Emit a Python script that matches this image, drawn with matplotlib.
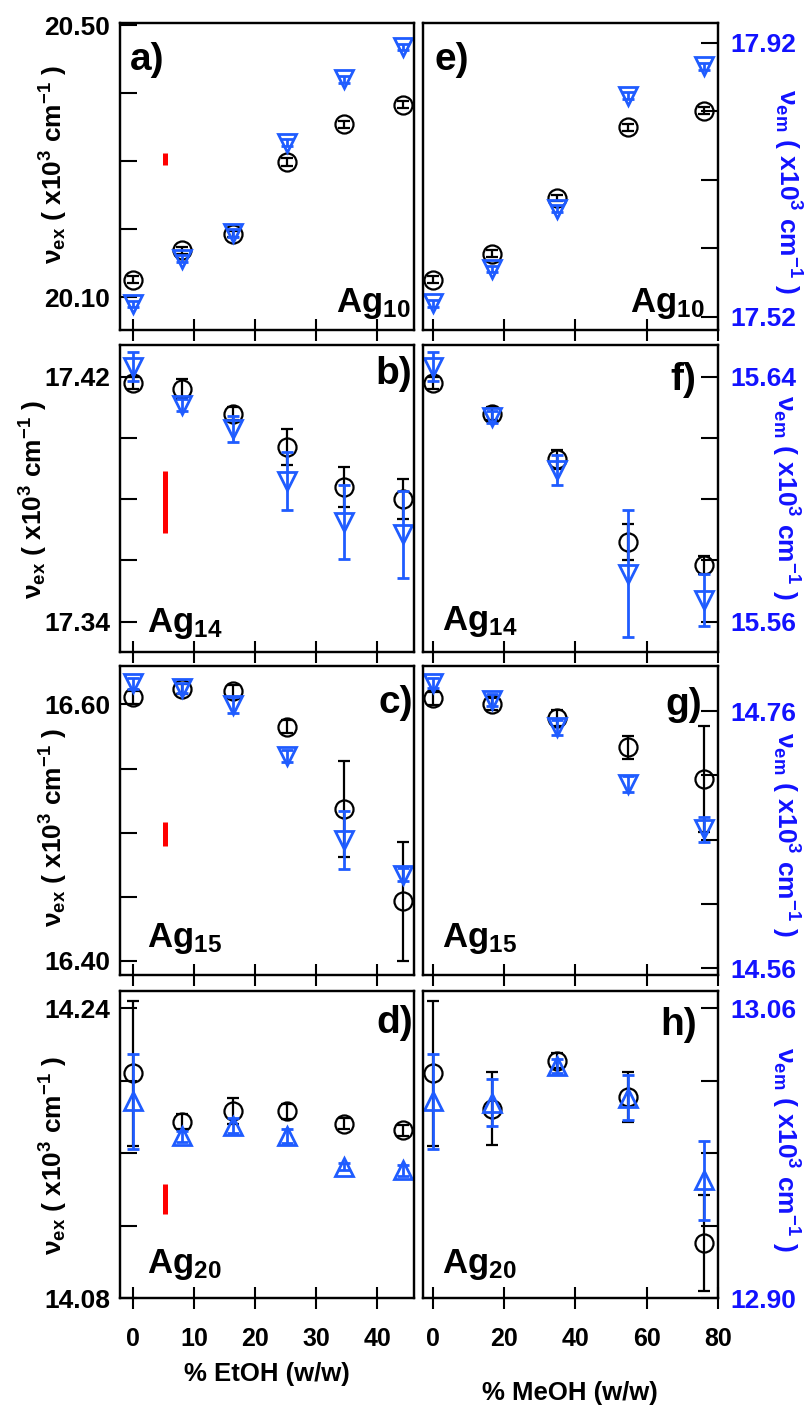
import matplotlib
matplotlib.use('Agg')
import numpy as np
import matplotlib.pyplot as plt

plt.rcParams['font.family'] = 'Liberation Sans'
plt.rcParams['font.weight'] = 'bold'
plt.rcParams['mathtext.fontset'] = 'custom'
plt.rcParams['mathtext.bf'] = 'Liberation Sans:bold'
plt.rcParams['mathtext.rm'] = 'Liberation Sans:bold'
plt.rcParams['mathtext.it'] = 'Liberation Sans:bold'
plt.rcParams['mathtext.default'] = 'bf'

### solvent content (% w/w) ###
etoh = [0, 7.9, 16.4, 25.1, 34.6, 44.2]
meoh = [0, 16.7, 34.8, 54.6, 76.1]

### excitation (circles, left scale) and emission (triangles, right scale) ###
# Ag10 - EtOH (a) / MeOH (e)
a_ex = [20.126, 20.169, 20.193, 20.299, 20.354, 20.383]
a_ex_err = [0.005, 0.005, 0.004, 0.006, 0.005, 0.005]
a_em = [17.539, 17.605, 17.643, 17.774, 17.867, 17.914]
a_em_err = [0.005, 0.005, 0.006, 0.005, 0.005, 0.005]
e_ex = [20.126, 20.164, 20.246, 20.350, 20.374]
e_ex_err = [0.005, 0.005, 0.005, 0.005, 0.005]
e_em = [17.540, 17.590, 17.678, 17.843, 17.886]
e_em_err = [0.005, 0.005, 0.005, 0.005, 0.005]

# Ag14 - (b) / (f)
b_ex = [17.418, 17.416, 17.408, 17.397, 17.384, 17.380]
b_ex_err = [0.002, 0.0033, 0.002, 0.0059, 0.0065, 0.0066]
b_em = [15.6433, 15.6307, 15.623, 15.606, 15.5926, 15.5886]
b_em_err = [0.0047, 0.002, 0.0042, 0.0095, 0.012, 0.0142]
f_ex = [17.418, 17.408, 17.393, 17.366, 17.3585]
f_ex_err = [0.002, 0.002, 0.003, 0.006, 0.003]
f_em = [15.6433, 15.6269, 15.6095, 15.5757, 15.5671]
f_em_err = [0.0047, 0.002, 0.005, 0.0208, 0.0084]

# Ag15 - (c) / (g)
c_ex = [16.6056, 16.612, 16.6105, 16.5827, 16.5184, 16.4464]
c_ex_err = [0.005, 0.004, 0.005, 0.005, 0.0373, 0.0463]
c_em = [14.7815, 14.7779, 14.7647, 14.725, 14.660, 14.6327]
c_em_err = [0.004, 0.004, 0.006, 0.005, 0.0226, 0.005]
g_ex = [16.6048, 16.6004, 16.5893, 16.5667, 16.5417]
g_ex_err = [0.005, 0.005, 0.006, 0.009, 0.0415]
g_em = [14.782, 14.7686, 14.7473, 14.7032, 14.668]
g_em_err = [0.004, 0.005, 0.006, 0.006, 0.01]

# Ag20 - (d) / (h)
d_ex = [14.2041, 14.1774, 14.1833, 14.183, 14.1762, 14.1725]
d_ex_err = [0.04, 0.004, 0.007, 0.004, 0.003, 0.003]
d_em = [13.0085, 12.9894, 12.9952, 12.9894, 12.9724, 12.9704]
d_em_err = [0.026, 0.003, 0.004, 0.004, 0.002, 0.003]
h_ex = [14.2041, 14.1844, 14.2111, 14.1909, 14.1103]
h_ex_err = [0.04, 0.0202, 0.004, 0.014, 0.0267]
h_em = [13.0085, 13.0078, 13.028, 13.0105, 12.9649]
h_em_err = [0.026, 0.013, 0.004, 0.0124, 0.0217]

### red scale bars (left column, left scale) ###
bar_x = 5.1
bar_lo = [20.2942, 17.3690, 16.4898, 14.1265]
bar_hi = [20.3117, 17.3892, 16.5085, 14.1431]

### axes ranges / ticks ###
ex_lims = [(20.052, 20.503), (17.3301, 17.4304), (16.389, 16.630), (14.08, 14.2495)]
em_lims = [(17.501, 17.949), (15.5501, 15.6504), (14.5548, 14.795), (12.90, 13.0695)]
ex_ticks = [[20.10, 20.20, 20.30, 20.40, 20.50], [17.34, 17.36, 17.38, 17.40, 17.42],
            [16.40, 16.45, 16.50, 16.55, 16.60], [14.08, 14.12, 14.16, 14.20, 14.24]]
em_ticks = [[17.52, 17.62, 17.72, 17.82, 17.92], [15.56, 15.58, 15.60, 15.62, 15.64],
            [14.56, 14.61, 14.66, 14.71, 14.76], [12.90, 12.94, 12.98, 13.02, 13.06]]
xticks_left = [0, 10, 20, 30, 40]
xticks_right = [0, 20, 40, 60, 80]
letters = [['a)', 'e)'], ['b)', 'f)'], ['c)', 'g)'], ['d)', 'h)']]
clusters = ['10', '14', '15', '20']

rows = [[(etoh, a_ex, a_ex_err, a_em, a_em_err), (meoh, e_ex, e_ex_err, e_em, e_em_err)],
        [(etoh, b_ex, b_ex_err, b_em, b_em_err), (meoh, f_ex, f_ex_err, f_em, f_em_err)],
        [(etoh, c_ex, c_ex_err, c_em, c_em_err), (meoh, g_ex, g_ex_err, g_em, g_em_err)],
        [(etoh, d_ex, d_ex_err, d_em, d_em_err), (meoh, h_ex, h_ex_err, h_em, h_em_err)]]

blue = '#1f5cff'
blue_txt = '#1212ff'

W, H = 810, 1407
fig = plt.figure(figsize=(8.1, 14.07), dpi=100)

col_l = [120, 423]
col_r = [414, 718]
row_t = [23, 345, 666, 991]
row_b = [330, 652, 975, 1298]
xlims = [(-2.2, 46.0), (-2.8, 80.0)]

# letter positions (axes fraction)
let_pos = [[(0.035, 0.88, 'left'), (0.04, 0.88, 'left')],
           [(0.995, 0.905, 'right'), (0.925, 0.886, 'right')],
           [(0.995, 0.88, 'right'), (0.945, 0.874, 'right')],
           [(0.995, 0.895, 'right'), (0.93, 0.889, 'right')]]
ag_pos = [[(0.735, 0.06), (0.70, 0.06)],
          [(0.093, 0.066), (0.066, 0.072)],
          [(0.093, 0.092), (0.066, 0.092)],
          [(0.093, 0.081), (0.066, 0.081)]]

for r in range(4):
    for c in range(2):
        x, ex, ex_err, em, em_err = rows[r][c]
        ax = fig.add_axes([col_l[c] / W, 1 - row_b[r] / H,
                           (col_r[c] - col_l[c]) / W, (row_b[r] - row_t[r]) / H])
        ax2 = ax.twinx()
        ax.set_xlim(xlims[c])
        ax.set_ylim(ex_lims[r])
        ax2.set_ylim(em_lims[r])

        ax.errorbar(x, ex, yerr=ex_err, fmt='o', mfc='none', mec='k', ms=13, mew=1.6,
                    ecolor='k', elinewidth=1.6, capsize=4.5, capthick=1.6, clip_on=False)
        mk = '^' if r == 3 else 'v'
        ax2.errorbar(x, em, yerr=em_err, fmt=mk, mfc='none', mec=blue, ms=13, mew=2,
                     ecolor=blue, elinewidth=2, capsize=4.5, capthick=2, clip_on=False)

        if c == 0:
            ax.plot([bar_x, bar_x], [bar_lo[r], bar_hi[r]], color='red', lw=3.6,
                    solid_capstyle='butt')

        for a in (ax, ax2):
            for s in a.spines.values():
                s.set_linewidth(1.6)

        # x ticks
        ax.set_xticks(xticks_left if c == 0 else xticks_right)
        ax.tick_params(axis='x', direction='inout', length=16, width=1.5, top=False,
                       labelsize=18, pad=13, labelbottom=(r == 3))

        # y ticks, only the end values labelled
        ax.set_yticks(ex_ticks[r])
        ax.set_yticklabels(['%.2f' % ex_ticks[r][0], '', '', '', '%.2f' % ex_ticks[r][-1]])
        ax2.set_yticks(em_ticks[r])
        ax2.set_yticklabels(['%.2f' % em_ticks[r][0], '', '', '', '%.2f' % em_ticks[r][-1]])
        if c == 0:
            ax.tick_params(axis='y', direction='in', length=12, width=1.5, labelsize=19, pad=7)
            ax2.tick_params(axis='y', right=False, labelright=False)
        else:
            ax.tick_params(axis='y', left=False, labelleft=False)
            ax2.tick_params(axis='y', direction='in', length=12, width=1.5, labelsize=19,
                            pad=9, labelcolor=blue_txt)

        lx, ly, lha = let_pos[r][c]
        ax2.text(lx, ly, letters[r][c], transform=ax.transAxes, fontsize=28,
                 ha=lha, va='center')
        gx, gy = ag_pos[r][c]
        ax2.text(gx, gy, 'Ag$_{%s}$' % clusters[r], transform=ax.transAxes, fontsize=25,
                 ha='left', va='baseline')

### axis titles ###
ex_lab = r'$ν_{ex}$ ( x10$^{3}$ cm$^{-1}$ )'
em_lab = r'$ν_{em}$ ( x10$^{3}$ cm$^{-1}$ )'
left_lab_xy = [(54, 164), (34, 499), (54, 827), (54, 1155)]
right_lab_xy = [(787, 192), (785, 498), (785, 835), (785, 1150)]
for (lx, ly) in left_lab_xy:
    fig.text(lx / W, 1 - ly / H, ex_lab, rotation=90, ha='center', va='center', fontsize=19)
for (rx, ry) in right_lab_xy:
    fig.text(rx / W, 1 - ry / H, em_lab, rotation=270, ha='center', va='center',
             fontsize=19, color=blue_txt)

fig.text(267 / W, 1 - 1374 / H, '% EtOH (w/w)', ha='center', va='center', fontsize=18.5)
fig.text(570 / W, 1 - 1393 / H, '% MeOH (w/w)', ha='center', va='center', fontsize=18.5)

plt.savefig('out.png', dpi=100)
